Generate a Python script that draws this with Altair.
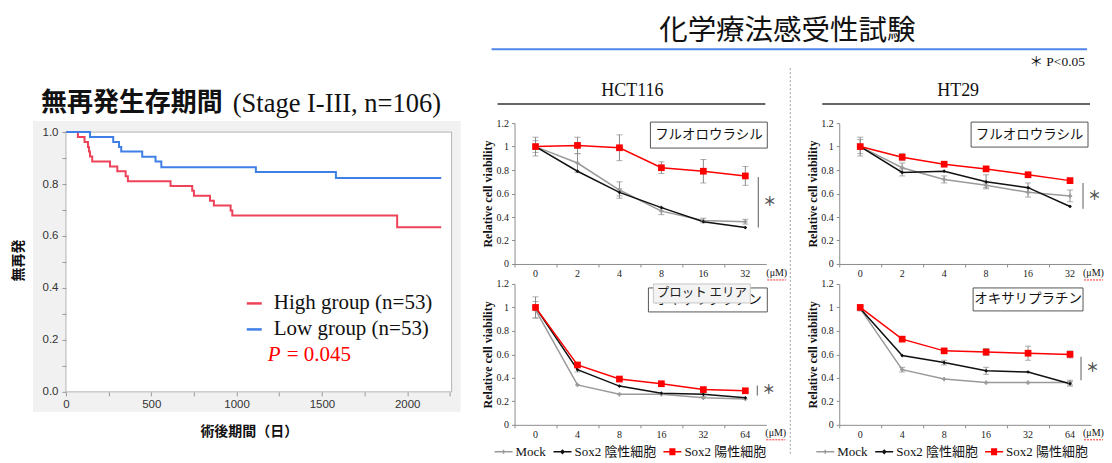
import altair as alt
import pandas as pd

SERIF = "Liberation Serif"
SANS = "Liberation Sans"
CJK = "Noto Sans CJK JP"
MIXED = "Liberation Serif, Noto Sans CJK JP"

# ---------------- Kaplan-Meier data ----------------
km_groups = ["High group (n=53)", "Low group (n=53)"]
km_colors = ["#ee4259", "#3f7fe6"]
km_high_days = [0, 70, 109, 129, 135, 141, 154, 258, 301, 350, 363, 613, 740, 750, 844, 867, 965, 975, 1941, 2199]
km_high_surv = [1.0, 0.981, 0.962, 0.943, 0.925, 0.906, 0.887, 0.868, 0.849, 0.830, 0.811, 0.792, 0.774, 0.755,
                0.736, 0.717, 0.698, 0.679, 0.634, 0.634]
km_low_days = [0, 141, 277, 311, 324, 447, 525, 559, 1113, 1582, 2199]
km_low_surv = [1.0, 0.981, 0.962, 0.943, 0.925, 0.905, 0.887, 0.865, 0.846, 0.823, 0.823]
km_x_ticks = [0, 250, 500, 750, 1000, 1250, 1500, 1750, 2000, 2250]
km_y_ticks = [0, 0.1, 0.2, 0.3, 0.4, 0.5, 0.6, 0.7, 0.8, 0.9, 1.0]

# ---------------- cell viability data ----------------
series = ["Mock", "Sox2 陰性細胞", "Sox2 陽性細胞"]
series_colors = ["#9a9a9a", "#111111", "#ff0000"]
conc_5fu = ["0", "2", "4", "8", "16", "32"]
conc_oxa = ["0", "4", "8", "16", "32", "64"]
via_ticks = [0, 0.2, 0.4, 0.6, 0.8, 1.0, 1.2]

hct_5fu_mock = [1.00, 0.86, 0.63, 0.45, 0.37, 0.36]
hct_5fu_neg = [1.00, 0.79, 0.61, 0.48, 0.36, 0.31]
hct_5fu_pos = [1.00, 1.01, 0.99, 0.82, 0.79, 0.75]
hct_5fu_mock_err = [0.05, 0.08, 0.07, 0.03, 0.02, 0.02]
hct_5fu_neg_err = [0.02, 0.01, 0.03, 0.01, 0.01, 0.01]
hct_5fu_pos_err = [0.08, 0.07, 0.11, 0.05, 0.10, 0.08]

ht_5fu_mock = [1.00, 0.82, 0.72, 0.67, 0.61, 0.58]
ht_5fu_neg = [1.00, 0.78, 0.79, 0.70, 0.65, 0.49]
ht_5fu_pos = [1.00, 0.91, 0.85, 0.81, 0.76, 0.71]
ht_5fu_mock_err = [0.06, 0.04, 0.03, 0.02, 0.04, 0.05]
ht_5fu_neg_err = [0.02, 0.03, 0.01, 0.06, 0.04, 0.01]
ht_5fu_pos_err = [0.08, 0.03, 0.02, 0.02, 0.02, 0.02]

hct_oxa_mock = [0.98, 0.34, 0.26, 0.26, 0.23, 0.22]
hct_oxa_neg = [1.00, 0.47, 0.33, 0.27, 0.26, 0.23]
hct_oxa_pos = [1.00, 0.51, 0.39, 0.35, 0.30, 0.29]
hct_oxa_mock_err = [0.07, 0.01, 0.01, 0.01, 0.01, 0.01]
hct_oxa_neg_err = [0.01, 0.02, 0.01, 0.01, 0.02, 0.01]
hct_oxa_pos_err = [0.09, 0.02, 0.01, 0.01, 0.01, 0.01]

ht_oxa_mock = [0.99, 0.47, 0.39, 0.36, 0.36, 0.36]
ht_oxa_neg = [0.99, 0.59, 0.53, 0.46, 0.45, 0.35]
ht_oxa_pos = [1.00, 0.73, 0.63, 0.62, 0.61, 0.60]
ht_oxa_mock_err = [0.02, 0.02, 0.01, 0.01, 0.01, 0.02]
ht_oxa_neg_err = [0.01, 0.01, 0.02, 0.03, 0.01, 0.02]
ht_oxa_pos_err = [0.02, 0.02, 0.02, 0.03, 0.06, 0.03]

# significance brackets (value range)
hct_5fu_sig = [0.31, 0.74]
ht_5fu_sig = [0.47, 0.69]
hct_oxa_sig = [0.25, 0.335]
ht_oxa_sig = [0.38, 0.58]

legend_paths = [
    "M-1,0H1M0,-0.22V0.22",
    "M-1,0H1M-0.17,0L0,-0.17L0.17,0L0,0.17Z",
    "M-1,0H1M-0.34,-0.3H0.34M-0.34,-0.15H0.34M-0.34,0H0.34M-0.34,0.15H0.34M-0.34,0.3H0.34",
]

ONE = pd.DataFrame({"k": [0]})


def vtext(txt, x, y, size, font, color="#111111", align="center", baseline="middle",
          weight="normal", style="normal"):
    return alt.Chart(ONE).mark_text(
        text=txt, align=align, baseline=baseline, font=font, fontSize=size,
        color=color, fontWeight=weight, fontStyle=style
    ).encode(x=alt.value(x), y=alt.value(y))


def vrule(x1, y1, x2, y2, color, width, dash=None):
    kw = dict(color=color, strokeWidth=width)
    if dash is not None:
        kw["strokeDash"] = dash
    return alt.Chart(ONE).mark_rule(**kw).encode(
        x=alt.value(x1), x2=alt.value(x2), y=alt.value(y1), y2=alt.value(y2))


def vrect(x1, y1, x2, y2, fill, stroke=None, sw=1.0):
    kw = dict(fill=fill, opacity=1)
    if stroke is not None:
        kw["stroke"] = stroke
        kw["strokeWidth"] = sw
    return alt.Chart(ONE).mark_rect(**kw).encode(
        x=alt.value(x1), x2=alt.value(x2), y=alt.value(y1), y2=alt.value(y2))


# ---------------- KM chart ----------------
km_df = pd.DataFrame(
    [{"day": d, "surv": s, "group": km_groups[0]} for d, s in zip(km_high_days, km_high_surv)]
    + [{"day": d, "surv": s, "group": km_groups[1]} for d, s in zip(km_low_days, km_low_surv)]
)
KM_W = 386
P_W, P_H, P_R = 262, 141, 252
KM_TOP, KM_BOT = 9, 269  # pixel rows of 1.0 and 0.0 inside the KM view

kx = alt.X("day:Q", scale=alt.Scale(domain=[0, 2260], nice=False, zero=False),
           axis=alt.Axis(values=km_x_ticks, offset=KM_BOT - P_H,
                         labelExpr="datum.value % 500 == 0 ? format(datum.value, 'd') : ''",
                         labelFont=SANS, labelFontSize=11.5, labelColor="#333333", labelPadding=3,
                         labelFlush=False, labelOverlap=False, tickSize=4, tickColor="#9a9a9a",
                         domain=False, grid=False, zindex=1,
                         title="術後期間（日）", titleFont=CJK, titleFontSize=14, titleFontWeight="bold",
                         titleColor="#111111", titleX=183, titleY=40, titleAlign="center",
                         titleBaseline="middle", titleAngle=0))
ky = alt.Y("surv:Q", scale=alt.Scale(domain=[0, 1.0], range=[KM_BOT, KM_TOP], nice=False, zero=True),
           axis=alt.Axis(values=km_y_ticks,
                         labelExpr="round(datum.value * 10) % 2 == 0 ? format(datum.value, '.1f') : ''",
                         labelFont=SANS, labelFontSize=11.5, labelColor="#333333", labelPadding=4,
                         labelFlush=False, labelOverlap=False, tickSize=4, tickColor="#9a9a9a",
                         domain=False, grid=False, zindex=1,
                         title="無再発", titleFont=CJK, titleFontSize=14, titleFontWeight="bold",
                         titleColor="#111111", titleX=-47, titleY=137, titleAlign="center",
                         titleBaseline="middle", titleAngle=-90))

km_lines = alt.Chart(km_df).mark_line(interpolate="step-after", strokeWidth=2).encode(
    x=kx, y=ky,
    color=alt.Color("group:N", scale=alt.Scale(domain=km_groups, range=km_colors),
                    legend=alt.Legend(orient="none", legendX=178, legendY=170, direction="vertical",
                                      title=None, symbolType="stroke", symbolSize=225,
                                      symbolStrokeWidth=2.5, labelFont=SERIF, labelFontSize=21,
                                      labelColor="#111111", labelOffset=9, rowPadding=4, padding=0,
                                      labelLimit=0)),
)

km = alt.layer(
    vrect(-58, -115, -57, -114, "white"),
    vrect(-33, -2, 395, 289, "#f1f1f1"),
    vrect(0, KM_TOP, KM_W, KM_BOT, "white", "#b4b4b4", 1),
    km_lines,
    vtext("無再発生存期間", -25, -20.5, 26, CJK, align="left", weight="bold"),
    vtext("(Stage I-III, n=106)", 167, -11, 26.5, SERIF, align="left", baseline="alphabetic"),
    vtext("P", 202, 232, 21, SERIF, color="#ff0000", align="left", style="italic"),
    vtext("= 0.045", 221, 232, 21, SERIF, color="#ff0000", align="left"),
).properties(width=KM_W, height=P_H)

# ---------------- viability panels ----------------


def panel(conc, vals, errs, box_text, box, sig, sig_x, um_x, um_y, legend_pos=None, extra=()):
    rows = []
    for s, vs, es in zip(series, vals, errs):
        for c, v, e in zip(conc, vs, es):
            rows.append({"conc": c, "series": s, "v": v, "lo": round(v - e, 4),
                         "hi": round(v + e, 4), "err": e})
    df = pd.DataFrame(rows)
    base = alt.Chart(df)

    xaxis = alt.Axis(labelAngle=0, labelFont=SERIF, labelFontSize=10, labelColor="#222222",
                     labelPadding=2, tickSize=3, tickColor="#8c8c8c", domainColor="#8c8c8c",
                     bandPosition=0, grid=False, title=None, labelOverlap=False)
    xscale = alt.Scale(type="band", domain=conc, range=[0, P_R], paddingInner=0, paddingOuter=0)
    yaxis = alt.Axis(values=via_ticks, format="~g", labelFont=SERIF, labelFontSize=10,
                     labelColor="#222222", labelPadding=3, tickSize=3, tickColor="#8c8c8c",
                     domainColor="#8c8c8c", grid=False, labelOverlap=False, labelFlush=False,
                     labelSeparation=0,
                     title="Relative cell viability", titleFont=SERIF, titleFontWeight="bold",
                     titleFontSize=12, titleColor="#111111", titleX=-27, titleY=P_H / 2,
                     titleAngle=-90, titleAlign="center", titleBaseline="middle")
    yscale = alt.Scale(domain=[0, 1.2], nice=False, zero=True)

    def X():
        return alt.X("conc:N", sort=conc, scale=xscale, axis=xaxis, bandPosition=0.5)

    def Y(f):
        return alt.Y(f, scale=yscale, axis=yaxis)

    err = base.transform_filter("datum.err > 0.015")
    layers = [
        err.mark_rule(color="#8a8a8a", strokeWidth=1).encode(x=X(), y=Y("lo:Q"), y2="hi:Q"),
        err.mark_tick(color="#8a8a8a", size=6, thickness=1).encode(x=X(), y=Y("lo:Q")),
        err.mark_tick(color="#8a8a8a", size=6, thickness=1).encode(x=X(), y=Y("hi:Q")),
    ]
    shapes = [("cross", 18), ("diamond", 14), ("square", 45)]
    for s, col in zip(series, series_colors):
        layers.append(base.transform_filter(alt.datum.series == s)
                      .mark_line(color=col, strokeWidth=1.5).encode(x=X(), y=Y("v:Q")))
    for s, col, (shp, sz) in zip(series, series_colors, shapes):
        layers.append(base.transform_filter(alt.datum.series == s)
                      .mark_point(shape=shp, size=sz, filled=True, color=col, opacity=1)
                      .encode(x=X(), y=Y("v:Q")))
    if legend_pos is not None:
        lx, ly = legend_pos
        L = dict(orient="none", legendX=lx, legendY=ly, direction="horizontal", title=None,
                 symbolSize=324, symbolStrokeWidth=1.5, symbolOpacity=1, labelFont=MIXED,
                 labelFontSize=13, labelColor="#111111", labelOffset=2, columnPadding=4,
                 padding=0, labelLimit=0)
        layers.append(base.mark_point(filled=False, opacity=0, strokeWidth=1.5).encode(
            x=X(), y=Y("v:Q"),
            color=alt.Color("series:N", scale=alt.Scale(domain=series, range=series_colors),
                            legend=alt.Legend(**L)),
            shape=alt.Shape("series:N", scale=alt.Scale(domain=series, range=legend_paths),
                            legend=alt.Legend(**L)),
        ))
    bx1, by1, bx2, by2 = box
    layers += [
        vrect(bx1, by1, bx2, by2, "white", "#555555", 1),
        vtext(box_text, (bx1 + bx2) / 2, (by1 + by2) / 2, 13.5, CJK),
        alt.Chart(ONE).mark_rule(color="#777777", strokeWidth=1.2).encode(
            x=alt.value(sig_x),
            y=alt.YDatum(sig[0], scale=yscale, axis=yaxis),
            y2=alt.Y2Datum(sig[1])),
        alt.Chart(ONE).mark_text(text="＊", font=CJK, fontSize=13, fontWeight="bold",
                                 color="#555555", align="left", baseline="middle").encode(
            x=alt.value(sig_x + 5),
            y=alt.YDatum((sig[0] + sig[1]) / 2, scale=yscale, axis=yaxis)),
        vtext("(μM)", um_x, um_y, 10, SERIF, align="left"),
        vrule(um_x + 1, um_y + 7, um_x + 20, um_y + 7, "#ff3030", 1, [2, 1]),
    ]
    layers += list(extra)
    return alt.layer(*layers).properties(width=P_W, height=P_H)


pA = panel(conc_5fu, [hct_5fu_mock, hct_5fu_neg, hct_5fu_pos],
           [hct_5fu_mock_err, hct_5fu_neg_err, hct_5fu_pos_err],
           "フルオロウラシル", (136, -1, 253, 25), hct_5fu_sig, 244, 252, 150,
           extra=[
               vtext("化学療法感受性試験", 273, -92, 28.5, CJK),
               vrule(-23, -74, 573, -74, "#4f86e8", 2),
               vtext("＊ P<0.05", 571, -61, 13.5, MIXED, align="right"),
               vtext("HCT116", 118, -32, 18, SERIF),
               vrule(-17, -19, 251, -19, "#333333", 1.5),
           ])
pB = panel(conc_5fu, [ht_5fu_mock, ht_5fu_neg, ht_5fu_pos],
           [ht_5fu_mock_err, ht_5fu_neg_err, ht_5fu_pos_err],
           "フルオロウラシル", (132, -1, 249, 24), ht_5fu_sig, 244, 244, 150,
           extra=[
               vtext("HT29", 119, -32, 18, SERIF),
               vrule(-17, -19, 251, -19, "#333333", 1.5),
               vrule(-49, -55, -49, 331, "#a0a0a0", 1, [2, 2]),
           ])
pC = panel(conc_oxa, [hct_oxa_mock, hct_oxa_neg, hct_oxa_pos],
           [hct_oxa_mock_err, hct_oxa_neg_err, hct_oxa_pos_err],
           "オキサリプラチン", (134, 4, 253, 28), hct_oxa_sig, 243, 251, 149,
           legend_pos=(-21, 158),
           extra=[
               vrect(139, 0, 236, 19, "#f3f3f3", "#c8c8c8", 1),
               vtext("プロット エリア", 187.5, 9.5, 12.5, CJK, color="#222222"),
           ])
pD = panel(conc_oxa, [ht_oxa_mock, ht_oxa_neg, ht_oxa_pos],
           [ht_oxa_mock_err, ht_oxa_neg_err, ht_oxa_pos_err],
           "オキサリプラチン", (134, 4, 244, 27), ht_oxa_sig, 242, 244, 149,
           legend_pos=(-24, 158))

spacer = alt.Chart(ONE).mark_point(opacity=0).encode(
    x=alt.value(0), y=alt.value(0)).properties(width=KM_W, height=10)

chart = alt.concat(km, pA, pB, spacer, pC, pD, columns=3).properties(
    align="none", bounds="flush", spacing={"row": 20, "column": 63},
    padding=0, background="white",
).resolve_scale(
    x="independent", y="independent", color="independent", shape="independent"
).configure_view(stroke=None)

chart.save("out.html", embed_options={"renderer": "svg", "actions": False})
